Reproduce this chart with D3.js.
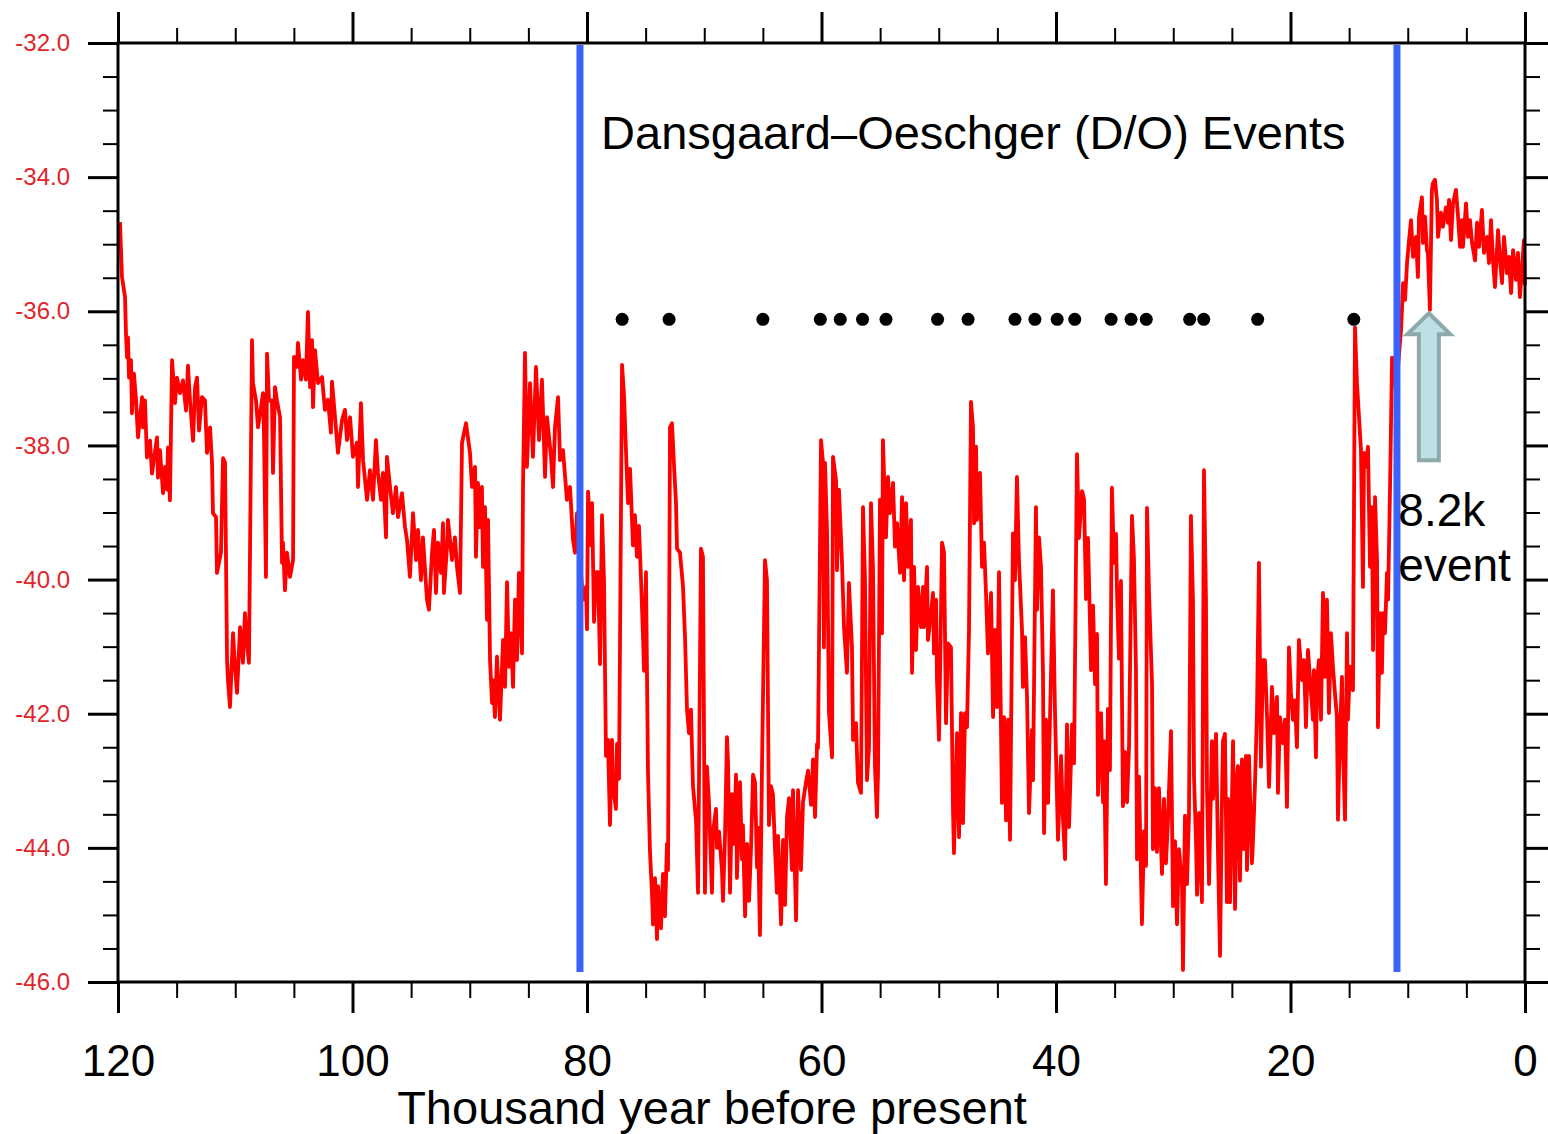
<!DOCTYPE html>
<html>
<head>
<meta charset="utf-8">
<script src="https://cdn.jsdelivr.net/npm/d3@7"></script>
<style>
  body { margin: 0; background: #fff; }
  svg { display: block; }
  svg text { font-family: "Liberation Sans", Arial, Helvetica, sans-serif; }
</style>
</head>
<body>
<div id="chart"></div>
<script>
// d18O record (kyr BP, per mil)
var record = [
  [119.83,-34.67],[119.66,-35.49],[119.40,-35.79],[119.32,-36.33],[119.23,-36.69],[119.15,-36.39],[119.06,-36.99],[118.89,-36.73],
  [118.81,-37.52],[118.64,-36.93],[118.46,-37.33],[118.29,-37.88],[117.95,-37.28],[117.87,-37.73],[117.70,-37.33],[117.53,-38.18],
  [117.27,-37.93],[117.10,-38.42],[116.67,-37.88],[116.59,-38.48],[116.42,-38.07],[116.16,-38.71],[115.99,-38.32],[115.82,-38.66],
  [115.74,-38.03],[115.57,-38.82],[115.39,-36.73],[115.14,-37.37],[114.97,-36.99],[114.71,-37.22],[114.46,-37.03],[114.20,-37.48],
  [114.03,-36.81],[113.86,-37.33],[113.60,-37.93],[113.43,-37.13],[113.26,-36.99],[113.09,-37.78],[112.84,-37.28],[112.58,-37.33],
  [112.41,-38.11],[112.15,-37.73],[111.98,-38.26],[111.90,-39.01],[111.64,-39.07],[111.56,-39.90],[111.22,-39.60],[111.04,-38.19],
  [110.87,-38.26],[110.70,-41.20],[110.62,-41.50],[110.45,-41.90],[110.19,-40.80],[110.02,-41.30],[109.85,-41.69],[109.59,-40.71],
  [109.34,-41.24],[109.17,-40.50],[109.00,-40.95],[108.83,-41.24],[108.57,-36.43],[108.49,-37.07],[108.23,-37.33],[108.06,-37.73],
  [107.80,-37.43],[107.63,-37.22],[107.55,-37.82],[107.38,-39.96],[107.29,-36.63],[107.12,-37.33],[106.87,-37.33],[106.78,-38.41],
  [106.61,-37.13],[106.44,-37.33],[106.18,-37.58],[106.01,-39.75],[105.93,-39.45],[105.76,-40.16],[105.59,-39.60],[105.33,-39.96],
  [105.07,-39.71],[104.99,-36.68],[104.73,-36.83],[104.65,-36.47],[104.39,-37.02],[104.22,-36.73],[103.97,-37.02],[103.80,-36.01],
  [103.62,-37.13],[103.45,-36.43],[103.37,-37.43],[103.20,-36.58],[102.94,-37.07],[102.60,-36.98],[102.35,-37.47],[102.09,-37.32],
  [101.84,-37.81],[101.75,-37.05],[101.49,-37.58],[101.24,-38.11],[100.89,-37.62],[100.64,-37.47],[100.47,-37.92],[100.21,-37.58],
  [99.96,-38.17],[99.62,-37.96],[99.53,-38.62],[99.28,-37.37],[99.10,-38.22],[98.76,-38.81],[98.51,-38.37],[98.25,-38.81],
  [98.00,-37.92],[97.83,-38.41],[97.57,-38.81],[97.40,-38.41],[97.14,-39.37],[97.06,-38.17],[96.80,-38.62],[96.55,-39.01],
  [96.29,-38.62],[96.12,-39.07],[95.78,-38.71],[95.52,-39.22],[95.35,-39.41],[95.10,-39.96],[94.84,-39.01],[94.58,-39.71],
  [94.41,-39.26],[94.16,-40.01],[93.99,-39.37],[93.65,-40.30],[93.48,-40.45],[93.22,-39.60],[93.05,-39.26],[92.88,-40.20],
  [92.71,-39.45],[92.45,-39.90],[92.28,-39.16],[92.20,-40.20],[91.94,-39.51],[91.86,-39.11],[91.51,-39.71],[91.26,-39.37],
  [91.09,-39.81],[90.83,-40.20],[90.66,-37.96],[90.32,-37.67],[89.98,-38.11],[89.81,-38.62],[89.55,-38.32],[89.47,-39.66],
  [89.30,-38.56],[89.13,-39.22],[88.96,-38.62],[88.87,-39.81],[88.70,-38.92],[88.53,-40.60],[88.44,-39.11],[88.27,-41.20],
  [88.10,-41.84],[88.02,-41.50],[87.85,-42.05],[87.68,-41.15],[87.42,-42.09],[87.16,-40.90],[86.99,-41.60],[86.82,-40.04],
  [86.65,-41.30],[86.48,-40.80],[86.31,-41.60],[86.14,-40.30],[85.97,-41.20],[85.80,-39.90],[85.54,-41.10],[85.46,-38.66],
  [85.29,-36.62],[85.12,-38.32],[84.86,-37.07],[84.61,-38.17],[84.35,-36.83],[84.09,-37.92],[83.84,-37.02],[83.58,-38.47],
  [83.41,-37.58],[83.07,-38.17],[82.90,-38.62],[82.73,-37.73],[82.47,-37.28],[82.30,-38.22],[82.05,-38.07],[81.71,-38.81],
  [81.45,-38.62],[81.19,-39.41],[81.02,-39.60],[80.85,-39.01],[80.60,-39.71],[80.34,-40.30],[80.09,-40.11],[80.00,-40.74],
  [79.91,-38.69],[79.66,-39.49],[79.57,-38.86],[79.40,-40.63],[79.23,-39.89],[79.06,-39.89],[78.89,-41.26],[78.72,-39.04],
  [78.55,-40.01],[78.38,-42.63],[78.21,-42.39],[78.04,-43.66],[77.87,-42.39],[77.78,-43.08],[77.53,-43.42],[77.44,-42.45],
  [77.27,-42.97],[77.01,-36.80],[76.84,-37.26],[76.67,-38.11],[76.50,-38.86],[76.33,-38.35],[76.08,-39.49],[75.91,-39.04],
  [75.74,-39.66],[75.57,-39.20],[75.39,-40.01],[75.22,-40.86],[75.14,-41.36],[74.97,-39.89],[74.80,-42.85],[74.63,-44.05],
  [74.46,-44.67],[74.37,-45.14],[74.20,-44.45],[74.03,-45.36],[73.94,-44.57],[73.69,-45.20],[73.52,-44.39],[73.35,-45.02],
  [73.18,-43.94],[73.09,-44.33],[72.92,-37.73],[72.75,-37.67],[72.58,-38.29],[72.41,-38.86],[72.32,-39.54],[72.07,-39.60],
  [71.81,-40.11],[71.64,-40.86],[71.47,-41.94],[71.30,-42.29],[71.13,-41.94],[70.96,-43.08],[70.70,-43.60],[70.53,-44.67],
  [70.28,-39.54],[70.11,-39.66],[69.94,-44.67],[69.77,-42.79],[69.60,-43.32],[69.34,-44.67],[69.25,-43.76],[69.00,-43.42],
  [68.91,-44.00],[68.74,-43.76],[68.49,-44.33],[68.40,-44.79],[68.23,-43.82],[68.06,-42.35],[67.97,-42.74],[67.80,-44.67],
  [67.63,-43.20],[67.46,-43.94],[67.29,-42.91],[67.21,-44.45],[66.95,-43.02],[66.78,-44.17],[66.70,-43.66],[66.52,-45.02],
  [66.35,-43.94],[66.18,-44.79],[66.01,-44.00],[65.84,-42.91],[65.67,-43.02],[65.50,-44.29],[65.42,-43.70],[65.25,-45.30],
  [65.07,-42.74],[64.82,-39.71],[64.65,-40.01],[64.48,-43.66],[64.31,-43.08],[64.14,-43.20],[63.97,-44.00],[63.80,-44.67],
  [63.71,-43.82],[63.45,-45.14],[63.28,-43.88],[63.11,-44.85],[62.94,-43.54],[62.77,-43.26],[62.52,-44.33],[62.43,-43.14],
  [62.17,-45.08],[62.00,-43.14],[61.75,-44.33],[61.58,-43.32],[61.32,-43.02],[61.15,-42.85],[60.89,-43.36],[60.72,-42.68],
  [60.55,-43.54],[60.38,-42.45],[60.30,-42.51],[60.04,-37.92],[59.87,-38.26],[59.79,-41.01],[59.70,-38.26],[59.53,-39.26],
  [59.36,-41.99],[59.10,-42.65],[59.02,-38.17],[58.76,-38.52],[58.68,-39.86],[58.51,-38.66],[58.25,-39.75],[58.08,-40.71],
  [57.83,-41.39],[57.66,-40.05],[57.40,-41.01],[57.31,-42.39],[57.06,-42.14],[56.89,-43.03],[56.63,-43.18],[56.46,-38.92],
  [56.29,-40.01],[56.12,-42.99],[55.95,-42.50],[55.78,-38.86],[55.61,-39.81],[55.44,-42.79],[55.27,-43.54],[55.18,-42.88],
  [55.01,-38.81],[54.84,-40.80],[54.76,-37.92],[54.50,-39.37],[54.33,-38.47],[54.16,-39.01],[53.90,-38.56],[53.73,-39.51],
  [53.56,-39.16],[53.30,-39.90],[53.13,-38.77],[52.96,-40.01],[52.79,-38.86],[52.62,-39.81],[52.37,-39.11],[52.28,-41.39],
  [52.11,-39.81],[51.94,-41.05],[51.77,-40.11],[51.51,-40.71],[51.34,-40.11],[51.26,-40.71],[51.00,-39.81],[50.92,-40.90],
  [50.66,-40.50],[50.49,-40.20],[50.41,-41.10],[50.23,-40.30],[50.15,-41.50],[49.98,-42.39],[49.81,-40.50],[49.72,-39.45],
  [49.55,-39.60],[49.38,-42.14],[49.21,-40.95],[48.96,-41.01],[48.78,-43.48],[48.70,-44.08],[48.44,-42.29],[48.27,-43.84],
  [48.10,-41.99],[47.93,-43.63],[47.76,-41.99],[47.59,-42.20],[47.42,-40.75],[47.25,-37.35],[47.08,-37.73],[46.99,-39.16],
  [46.82,-38.02],[46.74,-39.11],[46.48,-38.41],[46.31,-39.81],[46.14,-39.45],[45.97,-40.20],[45.80,-41.10],[45.54,-40.20],
  [45.37,-42.05],[45.20,-40.75],[45.03,-41.90],[44.86,-39.89],[44.61,-43.33],[44.43,-42.05],[44.26,-43.59],[44.09,-42.09],
  [43.92,-43.88],[43.67,-39.31],[43.50,-40.01],[43.33,-38.47],[43.16,-39.71],[42.90,-40.75],[42.82,-41.60],[42.64,-40.86],
  [42.47,-41.75],[42.30,-43.48],[42.05,-42.24],[41.96,-42.99],[41.71,-38.92],[41.62,-40.45],[41.45,-39.37],[41.28,-39.81],
  [41.11,-41.39],[41.02,-43.78],[40.85,-42.09],[40.68,-43.33],[40.51,-42.05],[40.26,-40.16],[40.09,-41.94],[39.83,-43.88],
  [39.57,-42.63],[39.40,-43.59],[39.23,-44.17],[39.06,-42.16],[38.89,-43.69],[38.63,-42.16],[38.46,-42.74],[38.21,-38.13],
  [38.04,-39.38],[37.78,-38.68],[37.61,-38.80],[37.44,-40.29],[37.27,-39.38],[37.01,-41.35],[36.84,-40.39],[36.67,-41.56],
  [36.50,-40.81],[36.42,-43.21],[36.16,-41.99],[35.99,-43.32],[35.91,-42.41],[35.74,-44.54],[35.57,-41.93],[35.40,-42.84],
  [35.23,-38.63],[35.05,-39.75],[34.88,-39.32],[34.80,-40.17],[34.63,-41.18],[34.46,-40.02],[34.29,-43.38],[34.12,-42.57],
  [33.94,-43.32],[33.77,-42.47],[33.52,-39.05],[33.35,-39.69],[33.18,-41.35],[33.09,-44.17],[32.92,-42.94],[32.67,-45.14],
  [32.49,-43.75],[32.32,-44.27],[32.24,-38.93],[32.07,-40.17],[31.81,-41.56],[31.73,-44.02],[31.56,-43.11],[31.39,-44.06],
  [31.22,-43.11],[30.96,-44.39],[30.79,-43.27],[30.62,-44.23],[30.45,-43.59],[30.19,-42.26],[30.02,-44.87],[29.85,-43.90],
  [29.68,-45.14],[29.51,-44.02],[29.25,-44.54],[29.17,-45.82],[29.00,-43.52],[28.83,-44.54],[28.66,-43.52],[28.49,-39.05],
  [28.32,-40.29],[28.23,-42.94],[28.06,-43.90],[27.97,-44.70],[27.80,-43.48],[27.55,-44.81],[27.38,-38.37],[27.21,-40.29],
  [27.12,-43.15],[26.95,-44.54],[26.70,-42.41],[26.61,-43.27],[26.35,-42.30],[26.18,-44.12],[26.01,-45.61],[25.84,-43.21],
  [25.76,-42.41],[25.59,-42.30],[25.42,-44.81],[25.33,-43.27],[25.16,-44.81],[24.90,-42.41],[24.73,-44.91],[24.56,-42.94],
  [24.48,-42.78],[24.31,-44.49],[24.14,-42.68],[23.97,-44.02],[23.80,-42.63],[23.71,-44.33],[23.54,-42.63],[23.29,-44.23],
  [23.20,-43.90],[23.03,-43.05],[22.86,-41.99],[22.69,-39.75],[22.52,-42.79],[22.35,-41.20],[22.18,-41.20],[22.00,-42.05],
  [21.83,-43.09],[21.58,-41.60],[21.41,-42.29],[21.15,-41.75],[21.07,-43.18],[20.90,-42.05],[20.64,-42.44],[20.47,-42.09],
  [20.30,-43.39],[20.13,-41.01],[19.96,-41.69],[19.79,-42.09],[19.62,-41.80],[19.45,-42.50],[19.28,-40.90],[19.02,-41.50],
  [18.85,-41.20],[18.68,-42.20],[18.51,-41.05],[18.25,-41.69],[18.08,-42.09],[18.00,-41.35],[17.83,-42.65],[17.74,-41.50],
  [17.57,-41.20],[17.40,-42.09],[17.23,-40.20],[17.06,-41.45],[16.89,-40.30],[16.72,-41.99],[16.55,-40.80],[16.38,-41.30],
  [16.21,-41.69],[16.04,-42.05],[15.95,-43.58],[15.78,-42.29],[15.61,-41.45],[15.52,-42.54],[15.35,-43.58],[15.18,-40.80],
  [15.10,-42.09],[14.93,-41.30],[14.67,-41.65],[14.50,-36.24],[14.33,-37.07],[14.24,-37.33],[13.99,-38.07],[13.82,-40.11],
  [13.73,-38.11],[13.56,-38.32],[13.39,-38.02],[13.22,-39.81],[13.05,-38.92],[12.96,-41.05],[12.79,-38.77],[12.62,-39.71],
  [12.54,-42.20],[12.37,-40.50],[12.20,-41.39],[12.11,-40.50],[11.94,-40.80],[11.77,-39.90],[11.68,-40.30],[11.51,-38.62],
  [11.34,-36.69],[11.00,-37.17],[10.57,-36.28],[10.40,-35.58],[10.23,-35.83],[10.06,-35.28],[9.89,-34.94],[9.72,-34.64],
  [9.55,-35.19],[9.30,-34.89],[9.13,-35.49],[9.04,-34.59],[8.79,-34.30],[8.70,-34.98],[8.53,-34.59],[8.36,-35.09],
  [8.28,-35.13],[8.11,-35.98],[7.94,-34.19],[7.85,-34.09],[7.68,-34.04],[7.51,-34.34],[7.42,-34.89],[7.17,-34.53],
  [7.00,-34.74],[6.74,-34.45],[6.57,-34.68],[6.48,-34.34],[6.31,-34.94],[6.14,-34.39],[5.89,-34.19],[5.71,-34.59],
  [5.54,-35.04],[5.37,-34.64],[5.29,-35.04],[5.03,-34.39],[4.86,-34.89],[4.69,-34.64],[4.52,-34.98],[4.26,-35.24],
  [4.09,-34.68],[3.92,-35.04],[3.67,-34.49],[3.50,-35.13],[3.24,-34.89],[3.07,-35.28],[2.90,-34.64],[2.73,-35.24],
  [2.56,-35.64],[2.30,-34.79],[2.13,-35.24],[1.96,-35.58],[1.79,-34.89],[1.54,-35.43],[1.37,-35.19],[1.19,-35.73],
  [1.02,-35.09],[0.77,-35.53],[0.60,-35.13],[0.43,-35.79],[0.26,-35.38],[0.09,-34.94],[0.00,-35.61]
];

// D/O event markers
var doEventAges = [77.0, 73.0, 65.0, 60.1, 58.4, 56.5, 54.5, 50.1, 47.5, 43.5, 41.8, 39.9, 38.4,
                   35.3, 33.6, 32.3, 28.6, 27.4, 22.8, 14.6];
var doMarkerLevel = -36.12;

// blue boundaries of the D/O period
var periodBounds = [80.6, 10.92];

// 8.2k event arrow (tip and tail)
var eventAge = 8.2;
var arrowTip = -36.03;
var arrowTail = -38.22;

var xMajor = [120, 100, 80, 60, 40, 20, 0];
var xMinor = [115, 110, 105, 95, 90, 85, 75, 70, 65, 55, 50, 45, 35, 30, 25, 15, 10, 5];
var yMajor = [-32, -34, -36, -38, -40, -42, -44, -46];
var yMinor = d3.range(-32, -46.01, -0.5).filter(function(d) { return d % 2 !== 0; });

var width = 1548, height = 1134;
var margin = {top: 43, right: 23, bottom: 152, left: 118};
var plotW = width - margin.left - margin.right;
var plotH = height - margin.top - margin.bottom;

var svg = d3.select("#chart").append("svg")
  .attr("width", width)
  .attr("height", height);

var g = svg.append("g")
  .attr("transform", "translate(" + margin.left + "," + margin.top + ")");

var x = d3.scaleLinear().domain([120, 0]).range([0, plotW]);
var y = d3.scaleLinear().domain([-32, -46]).range([0, plotH]);

// red curve
var line = d3.line()
  .x(function(d) { return x(d[0]); })
  .y(function(d) { return y(d[1]); });

g.append("path")
  .datum(record)
  .attr("d", line)
  .attr("fill", "none")
  .attr("stroke", "#ff0000")
  .attr("stroke-width", 3.8)
  .attr("stroke-linejoin", "round");

// blue lines
g.selectAll(".bound")
  .data(periodBounds)
  .enter().append("line")
  .attr("class", "bound")
  .attr("x1", function(d) { return x(d); })
  .attr("x2", function(d) { return x(d); })
  .attr("y1", y(-32.03))
  .attr("y2", y(-45.85))
  .attr("stroke", "#3b63fb")
  .attr("stroke-width", 7);

// D/O dots
g.selectAll(".dot")
  .data(doEventAges)
  .enter().append("circle")
  .attr("class", "dot")
  .attr("cx", function(d) { return x(d); })
  .attr("cy", y(doMarkerLevel))
  .attr("r", 6.5)
  .attr("fill", "#000");

// arrow for 8.2k event
var ax = x(eventAge), ty = y(arrowTip), by = y(arrowTail);
var head = 21, hw = 21.5, sw = 10;
g.append("path")
  .attr("d", "M" + ax + "," + ty +
    "L" + (ax + hw) + "," + (ty + head) +
    "L" + (ax + sw) + "," + (ty + head) +
    "L" + (ax + sw) + "," + by +
    "L" + (ax - sw) + "," + by +
    "L" + (ax - sw) + "," + (ty + head) +
    "L" + (ax - hw) + "," + (ty + head) + "Z")
  .attr("fill", "#bde0e4")
  .attr("stroke", "#8ea9ab")
  .attr("stroke-width", 4)
  .attr("stroke-linejoin", "miter");

// axes: major + minor ticks on all four sides
function styleAxis(sel, w) {
  sel.select(".domain").remove();
  sel.selectAll(".tick line").attr("stroke", "#000").attr("stroke-width", w);
}

g.append("g").attr("transform", "translate(0," + plotH + ")")
  .call(d3.axisBottom(x).tickValues(xMajor).tickSize(31).tickPadding(32)
    .tickFormat(function(d) { return d; }))
  .call(styleAxis, 3)
  .selectAll("text").attr("font-size", 44).attr("fill", "#000");

g.append("g").attr("transform", "translate(0," + plotH + ")")
  .call(d3.axisBottom(x).tickValues(xMinor).tickSize(16).tickFormat(""))
  .call(styleAxis, 2);

g.append("g")
  .call(d3.axisTop(x).tickValues(xMajor).tickSize(31).tickFormat(""))
  .call(styleAxis, 3);

g.append("g")
  .call(d3.axisTop(x).tickValues(xMinor).tickSize(15).tickFormat(""))
  .call(styleAxis, 2);

g.append("g")
  .call(d3.axisLeft(y).tickValues(yMajor).tickSize(30).tickPadding(18)
    .tickFormat(function(d) { return d.toFixed(1); }))
  .call(styleAxis, 3)
  .selectAll("text").attr("font-size", 24).attr("fill", "#e0262a");

g.append("g")
  .call(d3.axisLeft(y).tickValues(yMinor).tickSize(15).tickFormat(""))
  .call(styleAxis, 2);

g.append("g").attr("transform", "translate(" + plotW + ",0)")
  .call(d3.axisRight(y).tickValues(yMajor).tickSize(30).tickFormat(""))
  .call(styleAxis, 3);

g.append("g").attr("transform", "translate(" + plotW + ",0)")
  .call(d3.axisRight(y).tickValues(yMinor).tickSize(15).tickFormat(""))
  .call(styleAxis, 2);

// frame
g.append("rect")
  .attr("width", plotW)
  .attr("height", plotH)
  .attr("fill", "none")
  .attr("stroke", "#000")
  .attr("stroke-width", 3);

// texts
g.append("text")
  .attr("x", x(78.8))
  .attr("y", 106)
  .attr("font-size", 47)
  .attr("fill", "#000")
  .text("Dansgaard\u2013Oeschger (D/O) Events");

g.append("text")
  .attr("x", x(10.8))
  .attr("y", 483)
  .attr("font-size", 46)
  .attr("fill", "#000")
  .text("8.2k");

g.append("text")
  .attr("x", x(10.8))
  .attr("y", 538)
  .attr("font-size", 46)
  .attr("fill", "#000")
  .text("event");

svg.append("text")
  .attr("x", 712)
  .attr("y", 1124)
  .attr("text-anchor", "middle")
  .attr("font-size", 47)
  .attr("fill", "#000")
  .text("Thousand year before present");
</script>
</body>
</html>
